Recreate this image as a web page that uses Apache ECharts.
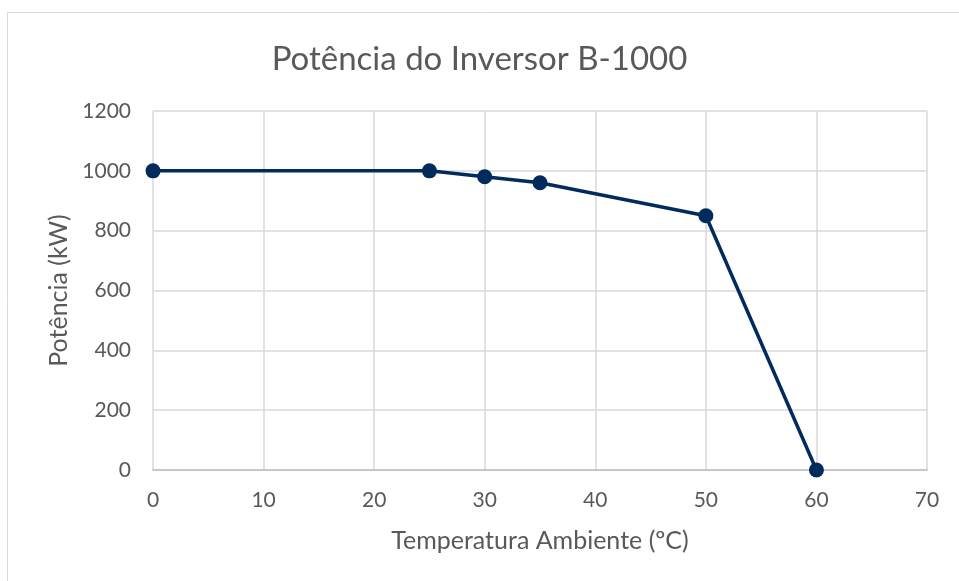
<!DOCTYPE html>
<html>
<head>
<meta charset="utf-8">
<script src="https://cdn.jsdelivr.net/npm/echarts@6/dist/echarts.min.js"></script>
<style>
  html, body { margin: 0; padding: 0; background: #fff; }
  #chart { width: 959px; height: 581px; }
</style>
</head>
<body>
<div id="chart"></div>
<script>
// temperatura (ºC) e potência (kW)
const temperatura = [0, 25, 30, 35, 50, 60];
const potencia = [1000, 1000, 980, 960, 850, 0];
const xMin = 0, xMax = 70, xStep = 10;
const yMin = 0, yMax = 1200, yStep = 200;

const font = 'Lato, "Open Sans", sans-serif';
const chart = echarts.init(document.getElementById('chart'));

chart.setOption({
  animation: false,
  graphic: [{
    type: 'rect',
    shape: { x: 7.5, y: 12.5, width: 1000, height: 1000 },
    style: { fill: 'none', stroke: '#d9d9d9', lineWidth: 1 },
    silent: true
  }],
  title: {
    text: 'Potência do Inversor B-1000',
    left: 'center',
    top: 38,
    textStyle: { fontFamily: font, fontSize: 33, fontWeight: 'normal', color: '#595959' }
  },
  grid: { left: 153, right: 32, top: 111, bottom: 111 },
  xAxis: {
    type: 'value',
    min: xMin, max: xMax, interval: xStep,
    name: 'Temperatura Ambiente (ºC)',
    nameLocation: 'middle',
    nameGap: 58,
    nameTextStyle: { fontFamily: font, fontSize: 25, color: '#595959' },
    axisLine: { lineStyle: { color: '#bfbfbf', width: 1.5 } },
    axisTick: { show: false },
    axisLabel: { fontFamily: font, fontSize: 21, color: '#595959', margin: 20 },
    splitLine: { show: true, lineStyle: { color: '#d9d9d9', width: 1.5 } }
  },
  yAxis: {
    type: 'value',
    min: yMin, max: yMax, interval: yStep,
    name: 'Potência (kW)',
    nameLocation: 'middle',
    nameGap: 75,
    nameTextStyle: { fontFamily: font, fontSize: 25, color: '#595959' },
    axisLine: { show: false },
    axisTick: { show: false },
    axisLabel: { fontFamily: font, fontSize: 21, color: '#595959', margin: 22, formatter: v => String(v) },
    splitLine: { lineStyle: { color: '#d9d9d9', width: 1.5 } }
  },
  series: [{
    type: 'line',
    data: temperatura.map((t, i) => [t, potencia[i]]),
    symbol: 'circle',
    symbolSize: 15,
    lineStyle: { color: '#002b5c', width: 3.5 },
    itemStyle: { color: '#002b5c' }
  }]
});
</script>
</body>
</html>
